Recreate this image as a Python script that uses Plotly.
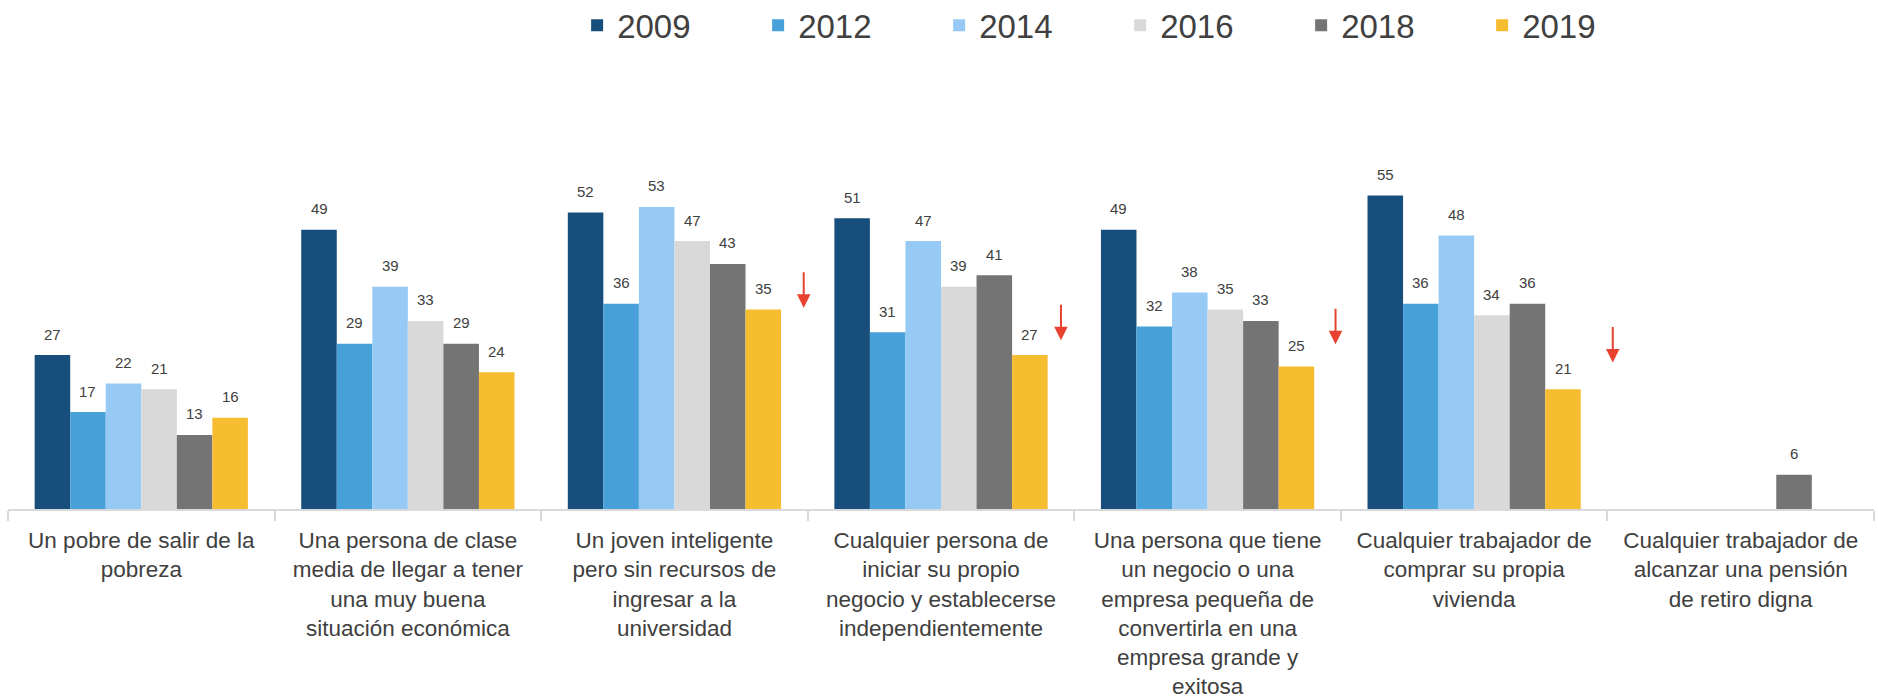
import plotly.graph_objects as go

categories = [
    "Un pobre de salir de la<br>pobreza",
    "Una persona de clase<br>media de llegar a tener<br>una muy buena<br>situación económica",
    "Un joven inteligente<br>pero sin recursos de<br>ingresar a la<br>universidad",
    "Cualquier persona de<br>iniciar su propio<br>negocio y establecerse<br>independientemente",
    "Una persona que tiene<br>un negocio o una<br>empresa pequeña de<br>convertirla en una<br>empresa grande y<br>exitosa",
    "Cualquier trabajador de<br>comprar su propia<br>vivienda",
    "Cualquier trabajador de<br>alcanzar una pensión<br>de retiro digna",
]

years = ["2009", "2012", "2014", "2016", "2018", "2019"]
v2009 = [27, 49, 52, 51, 49, 55, None]
v2012 = [17, 29, 36, 31, 32, 36, None]
v2014 = [22, 39, 53, 47, 38, 48, None]
v2016 = [21, 33, 47, 39, 35, 34, None]
v2018 = [13, 29, 43, 41, 33, 36, 6]
v2019 = [16, 24, 35, 27, 25, 21, None]
series = [v2009, v2012, v2014, v2016, v2018, v2019]
colors = ["#174e7c", "#47a1d8", "#96caf5", "#d9d9d9", "#747474", "#f7bd31"]

# decreasing-trend arrows (category position, tip value)
arrow_x = [2.485, 3.45, 4.48, 5.52]
arrow_y = [35.3, 29.6, 28.9, 25.7]

FONT = "Arial, 'Liberation Sans', sans-serif"
TXT = "#404040"
BARGAP = 0.2

fig = go.Figure()
for name, vals, col in zip(years, series, colors):
    fig.add_trace(go.Bar(
        name=name, x=categories, y=vals, marker_color=col,
        marker_line_width=0, hoverinfo="x+y+name",
    ))

n = len(years)
slot = (1 - BARGAP) / n
annotations = []
for j, vals in enumerate(series):
    off = (j - (n - 1) / 2) * slot
    for i, v in enumerate(vals):
        if v is None:
            continue
        annotations.append(dict(
            x=i + off, y=v, xref="x", yref="y", text=str(v), showarrow=False,
            yshift=21, font=dict(family=FONT, size=15, color=TXT),
        ))
for ax_, ay_ in zip(arrow_x, arrow_y):
    annotations.append(dict(
        x=ax_, y=ay_, xref="x", yref="y", text="", showarrow=True,
        ax=0, ay=-37, arrowhead=2, arrowsize=1.35, arrowwidth=2,
        arrowcolor="#e8412f",
    ))

fig.update_layout(
    width=1878, height=698,
    margin=dict(l=8, r=4, t=167, b=189, pad=0, autoexpand=False),
    barmode="group", bargap=BARGAP, bargroupgap=0,
    plot_bgcolor="white", paper_bgcolor="white",
    font=dict(family=FONT, color=TXT),
    showlegend=True,
    legend=dict(
        orientation="h", x=0.305, xanchor="left", y=1.496, yanchor="top",
        font=dict(family=FONT, size=33, color=TXT),
        entrywidth=136, entrywidthmode="pixels",
        bgcolor="rgba(0,0,0,0)", traceorder="normal",
    ),
    annotations=annotations,
    xaxis=dict(
        type="category", showgrid=False, showline=True, linecolor="#d9d9d9",
        linewidth=2, ticks="outside", tickson="boundaries", ticklen=10,
        tickcolor="#d9d9d9", tickwidth=1.5, ticklabelstandoff=10,
        tickfont=dict(family=FONT, size=22.5, color=TXT),
        range=[-0.5, 6.5], fixedrange=True, automargin=False,
    ),
    yaxis=dict(visible=False, range=[0, 60], showgrid=False, zeroline=False,
               fixedrange=True, automargin=False),
)

fig.write_html("out.html",
               config={"displayModeBar": False},
               post_script="document.body.style.margin='0';"
                           "document.body.style.overflow='hidden';")
